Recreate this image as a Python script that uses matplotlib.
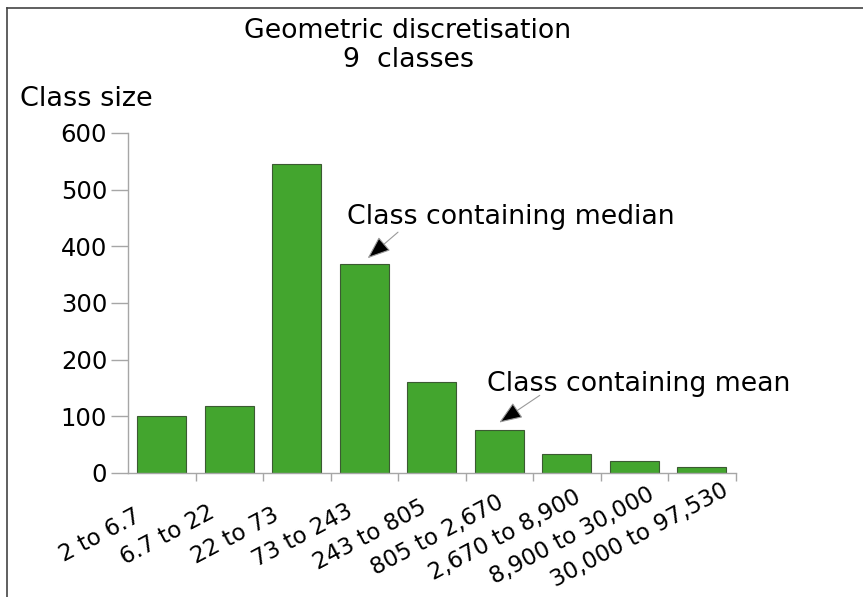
import numpy as np
import matplotlib
matplotlib.use("Agg")
import matplotlib.pyplot as plt
import matplotlib.transforms as mtransforms
from matplotlib.lines import Line2D

plt.rcParams['font.family'] = ['DejaVu Sans']

# class limits and number of units in each class
classes = ['2 to 6.7', '6.7 to 22', '22 to 73', '73 to 243', '243 to 805',
           '805 to 2,670', '2,670 to 8,900', '8,900 to 30,000', '30,000 to 97,530']
class_size = [100, 118, 545, 368, 161, 76, 33, 22, 11]
y_ticks = [0, 100, 200, 300, 400, 500, 600]

MEDIAN_CLASS = 3
MEAN_CLASS = 5

BAR_GREEN = '#43a52e'
BAR_EDGE = '#3b5a32'
AXIS_GREY = '#a6a6a6'

fig = plt.figure(figsize=(8.63, 5.97), dpi=100)
W, H = 863, 597
ax = fig.add_axes([128 / W, 1 - 473 / H, (735.5 - 128) / W, (473 - 133) / H])

x = np.arange(len(classes))
ax.bar(x, class_size, width=0.726, color=BAR_GREEN, edgecolor=BAR_EDGE, linewidth=0.8)

ax.set_xlim(-0.5, len(classes) - 0.5)
ax.set_ylim(0, 600)

for side in ['top', 'right']:
    ax.spines[side].set_visible(False)
for side in ['left', 'bottom']:
    ax.spines[side].set_color(AXIS_GREY)
    ax.spines[side].set_linewidth(1.0)

# y axis
ax.set_yticks(y_ticks)
ax.tick_params(axis='y', length=12, width=1, color=AXIS_GREY, pad=3, labelsize=17.5)

# x axis: labels centred a little left of each bar, ticks at class boundaries
ax.set_xticks(x)
ax.set_xticklabels(classes, rotation=28, ha='center', va='center', rotation_mode='anchor')
ax.set_xticks(np.arange(0.5, len(classes), 1.0), minor=True)
ax.tick_params(axis='x', which='major', length=0, pad=45, labelsize=16.5)
ax.tick_params(axis='x', which='minor', length=6, width=1, color=AXIS_GREY)
shift = mtransforms.ScaledTranslation(-62 / 100, 0, fig.dpi_scale_trans)
for lab in ax.get_xticklabels():
    lab.set_transform(lab.get_transform() + shift)

# titles
fig.text(408 / W, 1 - 38 / H, 'Geometric discretisation', ha='center', va='baseline', fontsize=19.3)
fig.text(408 / W, 1 - 67 / H, '9  classes', ha='center', va='baseline', fontsize=19.3)
fig.text(20 / W, 1 - 106 / H, 'Class size', ha='left', va='baseline', fontsize=19.5)

# annotations
arrow_kw = dict(arrowstyle='-|>,head_length=0.9,head_width=0.35', mutation_scale=16,
                ec='#9a9a9a', fc='black', lw=0.8, shrinkA=0, shrinkB=0)
ax.text(MEDIAN_CLASS - 0.256, 439, 'Class containing median', fontsize=19.3, va='baseline')
ax.annotate('', xy=(MEDIAN_CLASS + 0.05, 379), xytext=(MEDIAN_CLASS + 0.5, 425),
            arrowprops=arrow_kw)
ax.text(MEAN_CLASS - 0.18, 144, 'Class containing mean', fontsize=19.3, va='baseline')
ax.annotate('', xy=(MEAN_CLASS, 89), xytext=(MEAN_CLASS + 0.6, 137),
            arrowprops=arrow_kw)

# frame lines at top and left of the picture
fig.add_artist(Line2D([7 / W, 1], [1 - 8 / H, 1 - 8 / H], transform=fig.transFigure,
                      color='#444444', lw=1.2))
fig.add_artist(Line2D([7 / W, 7 / W], [0, 1 - 8 / H], transform=fig.transFigure,
                      color='#444444', lw=1.2))

fig.savefig('out.png', dpi=100, facecolor='white')
